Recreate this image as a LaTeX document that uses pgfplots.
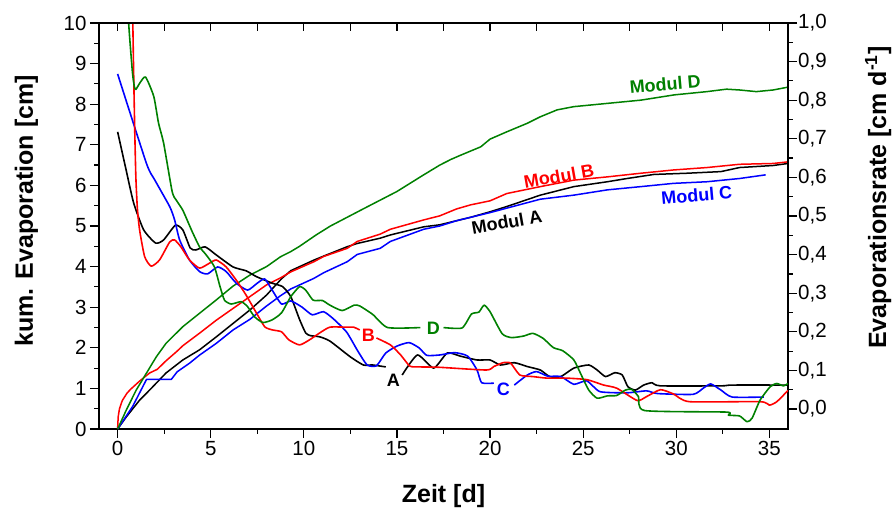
\documentclass[border=0pt]{standalone}
\usepackage{pgfplots}
\pgfplotsset{compat=1.18}
\usepackage{fontspec}
\setmainfont{Liberation Sans}
\definecolor{mygreen}{RGB}{0,128,0}
\definecolor{myred}{RGB}{255,0,0}
\definecolor{myblue}{RGB}{0,0,255}
\begin{document}
\begin{tikzpicture}
\tikzset{lab/.style={font=\fontsize{18bp}{21bp}\selectfont\bfseries}}
\pgfplotsset{
  common/.style={
    scale only axis, width=689bp, height=406bp,
    xmin=-1, xmax=36,
    axis line style={line width=1.4bp},
    tick style={line width=1.2bp, black},
    tick label style={font=\fontsize{20.5bp}{24bp}\selectfont},
    /pgf/number format/assume math mode=true,
    label style={font=\fontsize{25bp}{30bp}\selectfont\bfseries},
    tick align=outside, major tick length=9bp, minor tick length=4.5bp,
  },
  cum/.style={line width=1.5bp, line join=round},
  rate/.style={line width=1.6bp, line join=round, smooth, tension=0.35},
}
% ---------------- left axis: cumulative evaporation
\begin{axis}[common,
  ymin=0, ymax=10,
  xtick={0,5,...,35}, minor x tick num=1,
  ytick={0,1,...,10}, minor y tick num=1,
  xtick pos=left, ytick pos=left,
  xlabel={Zeit [d]}, ylabel={kum. Evaporation [cm]},
  xlabel style={at={(axis description cs:0.5,-0.182)}, anchor=base},
  ylabel style={at={(axis description cs:-0.0958,0.537)}, anchor=base},
]
\coordinate (bl) at (rel axis cs:0,0);
\coordinate (tr) at (rel axis cs:1,1);
% Modul A (black)
\addplot[cum, black] coordinates {(0,0) (0.47,0.30) (1.18,0.71) (1.72,0.96) (2.60,1.38) (3.50,1.70) (4.40,1.95) (5.30,2.27) (6.20,2.60) (7.10,2.93) (8.00,3.30) (8.80,3.70) (9.30,3.90) (10.54,4.16) (11.07,4.26) (12.33,4.49) (12.87,4.57) (14.10,4.70) (14.65,4.78) (16.44,4.98) (17.30,5.03) (18.20,5.13) (19.00,5.22) (20.00,5.35) (20.90,5.48) (22.70,5.76) (24.50,5.97) (26.30,6.09) (27.36,6.17) (28.80,6.27) (30.60,6.30) (32.40,6.34) (33.40,6.44) (35.20,6.49) (36.00,6.54)};
% Modul B (red)
\addplot[cum, myred] coordinates {(0,0) (0.03,0.30) (0.10,0.50) (0.25,0.70) (0.50,0.88) (0.70,0.98) (1.18,1.18) (1.72,1.38) (2.13,1.47) (2.60,1.68) (3.20,1.92) (3.50,2.05) (4.40,2.36) (5.30,2.68) (6.20,2.97) (7.10,3.26) (8.00,3.55) (8.74,3.72) (9.30,3.87) (10.54,4.12) (11.07,4.25) (12.33,4.45) (12.87,4.62) (14.10,4.80) (14.65,4.92) (16.44,5.15) (17.30,5.25) (18.20,5.42) (18.95,5.52) (20.00,5.62) (20.90,5.80) (22.70,5.97) (24.50,6.13) (26.30,6.21) (28.10,6.30) (29.85,6.38) (31.65,6.44) (33.40,6.52) (35.20,6.54) (36.00,6.58)};
% Modul C (blue)
\addplot[cum, myblue] coordinates {(0,0) (0.80,0.55) (1.55,1.22) (2.88,1.22) (3.20,1.41) (3.86,1.62) (4.40,1.82) (5.30,2.11) (6.20,2.44) (7.10,2.70) (8.00,3.03) (8.74,3.28) (9.30,3.45) (10.54,3.71) (11.07,3.85) (12.33,4.12) (12.87,4.30) (14.10,4.45) (14.65,4.62) (16.44,4.92) (17.30,5.00) (18.20,5.13) (19.10,5.23) (20.00,5.33) (20.90,5.44) (22.70,5.66) (24.50,5.76) (26.30,5.89) (28.10,5.97) (29.85,6.05) (31.65,6.09) (33.40,6.17) (34.80,6.26)};
% Modul D (green)
\addplot[cum, mygreen] coordinates {(0,0) (0.47,0.47) (1.00,0.96) (1.54,1.37) (2.08,1.78) (2.60,2.11) (3.50,2.52) (4.40,2.85) (5.30,3.18) (6.20,3.52) (7.10,3.79) (8.00,4.00) (8.74,4.24) (9.30,4.37) (9.77,4.50) (10.66,4.78) (11.43,5.00) (13.10,5.40) (15.00,5.85) (16.40,6.25) (17.30,6.50) (17.90,6.64) (18.40,6.74) (19.50,6.95) (20.00,7.14) (20.90,7.32) (22.00,7.53) (22.70,7.69) (23.60,7.86) (24.50,7.94) (25.40,7.98) (26.30,8.02) (27.20,8.06) (28.10,8.10) (29.90,8.23) (31.65,8.31) (32.70,8.37) (33.40,8.35) (34.30,8.31) (35.20,8.35) (36.00,8.42)};
% labels
\node[lab, mygreen, rotate=5] at (axis cs:29.4,8.5) {Modul D};
\node[lab, myred, rotate=10] at (axis cs:23.7,6.23) {Modul B};
\node[lab, myblue, rotate=5] at (axis cs:31.1,5.76) {Modul C};
\node[lab, black, rotate=10] at (axis cs:20.9,5.1) {Modul A};
\node[lab, black] at (axis cs:14.81,1.21) {A};
\node[lab, myred] at (axis cs:13.47,2.32) {B};
\node[lab, myblue] at (axis cs:20.72,0.985) {C};
\node[lab, mygreen] at (axis cs:16.96,2.49) {D};
\end{axis}
% ---------------- right axis: evaporation rate
\begin{axis}[common,
  ymin=-0.0518, ymax=1.0,
  axis x line=none, axis y line*=right,
  ytick={0,0.1,0.2,0.3,0.4,0.5,0.6,0.7,0.8,0.9,1.0}, minor y tick num=1,
  yticklabel style={inner xsep=1bp, /pgf/number format/.cd, fixed, fixed zerofill, precision=1, use comma},
  ylabel={Evaporationsrate [cm d\textsuperscript{-1}]},
  ylabel style={at={(axis description cs:1.1425,0.57)}, anchor=base},
]
% black (A)
\addplot[rate, black] coordinates {(0,0.718) (0.43,0.625) (0.86,0.534) (1.40,0.464) (2.04,0.430) (2.47,0.438) (3.10,0.476) (3.50,0.464) (3.90,0.417) (4.20,0.412) (4.70,0.420) (5.30,0.399) (6.20,0.368) (6.90,0.358) (7.45,0.343) (8.30,0.326) (8.86,0.317) (9.30,0.291) (9.77,0.232) (10.10,0.197) (10.36,0.190) (10.85,0.187) (11.40,0.176) (12.50,0.135) (13.20,0.114) (13.70,0.114) (14.40,0.109)};
\addplot[rate, black] coordinates {(15.28,0.088) (16.10,0.140) (16.97,0.106) (17.70,0.145) (18.40,0.137) (19.30,0.127) (20.00,0.127) (20.56,0.114) (21.30,0.120) (22.00,0.110) (22.70,0.101) (23.20,0.084) (23.80,0.084) (24.50,0.106) (25.30,0.114) (25.75,0.101) (26.20,0.084) (26.70,0.094) (27.10,0.088) (27.40,0.058) (27.80,0.049) (28.25,0.062) (28.70,0.068) (29.15,0.060) (32.40,0.060) (33.00,0.062) (36.00,0.062)};
% blue (C)
\addplot[rate, myblue] coordinates {(0,0.868) (1.55,0.636) (2.00,0.593) (2.80,0.524) (3.06,0.490) (3.33,0.438) (3.86,0.386) (4.40,0.356) (4.83,0.350) (5.37,0.368) (5.83,0.356) (6.37,0.326) (6.98,0.308) (7.50,0.326) (7.90,0.337) (8.30,0.308) (8.80,0.272) (9.30,0.280) (9.90,0.264) (10.45,0.244) (11.06,0.252) (11.60,0.233) (12.30,0.199) (12.90,0.150) (13.40,0.114) (13.90,0.112) (14.40,0.145) (15.00,0.163) (15.65,0.172) (16.20,0.158) (16.60,0.139) (17.30,0.140) (18.10,0.146) (18.80,0.137) (19.30,0.101) (19.55,0.068) (20.20,0.067)};
\addplot[rate, myblue] coordinates {(21.30,0.062) (22.00,0.088) (22.50,0.097) (23.10,0.085) (23.80,0.084) (24.50,0.064) (25.20,0.073) (25.90,0.045) (27.36,0.042) (28.40,0.047) (29.00,0.040) (30.90,0.038) (31.45,0.054) (31.85,0.065) (32.40,0.049) (33.00,0.031) (34.70,0.031)};
% red (B)
\addplot[rate, myred] coordinates {(0.80,1.05) (0.85,0.90) (0.92,0.72) (0.98,0.60) (1.06,0.52) (1.18,0.464) (1.45,0.395) (1.80,0.370) (2.25,0.386) (2.80,0.433) (3.06,0.438) (3.40,0.420) (3.86,0.386) (4.40,0.365) (4.94,0.378) (5.30,0.386) (5.83,0.368) (6.37,0.334) (6.90,0.295) (7.45,0.249) (7.90,0.213) (8.30,0.205) (8.80,0.200) (9.20,0.179) (9.77,0.166) (10.30,0.179) (10.85,0.197) (11.40,0.212) (12.30,0.212) (12.67,0.212) (13.00,0.205)};
\addplot[rate, myred] coordinates {(13.90,0.184) (14.65,0.166) (15.20,0.140) (15.70,0.111) (16.26,0.109) (17.30,0.108) (19.80,0.101) (20.20,0.110) (20.70,0.120) (21.10,0.119) (21.60,0.088) (22.30,0.084) (23.06,0.080) (24.10,0.080) (25.20,0.076) (26.10,0.062) (26.80,0.054) (27.90,0.022) (28.40,0.032) (29.15,0.050) (29.85,0.039) (30.70,0.019) (34.50,0.019) (35.00,0.010) (35.40,0.019) (36.00,0.048)};
% green (D)
\addplot[rate, mygreen] coordinates {(0.50,1.08) (0.55,1.03) (0.65,0.96) (0.80,0.87) (0.90,0.835) (0.98,0.828) (1.20,0.845) (1.50,0.860) (1.94,0.810) (2.20,0.740) (2.47,0.689) (2.93,0.563) (3.15,0.541) (3.50,0.515) (4.00,0.460) (4.40,0.420) (4.76,0.399) (5.20,0.368) (5.50,0.317) (5.74,0.282) (6.10,0.272) (6.64,0.278) (6.98,0.265) (7.35,0.239) (7.80,0.224) (8.30,0.231) (8.80,0.249) (9.30,0.291) (9.77,0.317) (10.10,0.308) (10.50,0.282) (11.00,0.281) (11.40,0.269) (12.06,0.255) (12.70,0.269) (13.00,0.267) (13.70,0.245) (14.50,0.211) (16.26,0.211)};
\addplot[rate, mygreen] coordinates {(17.50,0.211) (18.50,0.210) (19.00,0.246) (19.40,0.251) (19.68,0.269) (20.00,0.252) (20.65,0.195) (21.15,0.185) (21.80,0.189) (22.30,0.196) (22.85,0.183) (23.40,0.159) (23.90,0.151) (24.50,0.127) (24.90,0.088) (25.30,0.049) (25.75,0.028) (26.30,0.034) (26.80,0.035) (27.27,0.049) (27.60,0.051) (27.97,0.032) (28.30,-0.004) (32.70,-0.008) (32.80,-0.016) (33.40,-0.018) (33.80,-0.033) (34.07,-0.024) (34.50,0.023) (35.05,0.058) (35.40,0.066) (35.75,0.060) (36.00,0.066)};
\end{axis}
% ---------------- top ticks (inside)
\begin{axis}[common,
  ymin=0, ymax=1,
  axis y line=none, axis x line*=top,
  tick align=inside, major tick length=8bp,
  xtick={0,2.5,...,35}, xticklabels={},
]
\end{axis}
\pgfresetboundingbox
\path[use as bounding box] ([xshift=-99bp,yshift=-81bp]bl) rectangle ([xshift=105bp,yshift=23bp]tr);
\end{tikzpicture}
\end{document}
